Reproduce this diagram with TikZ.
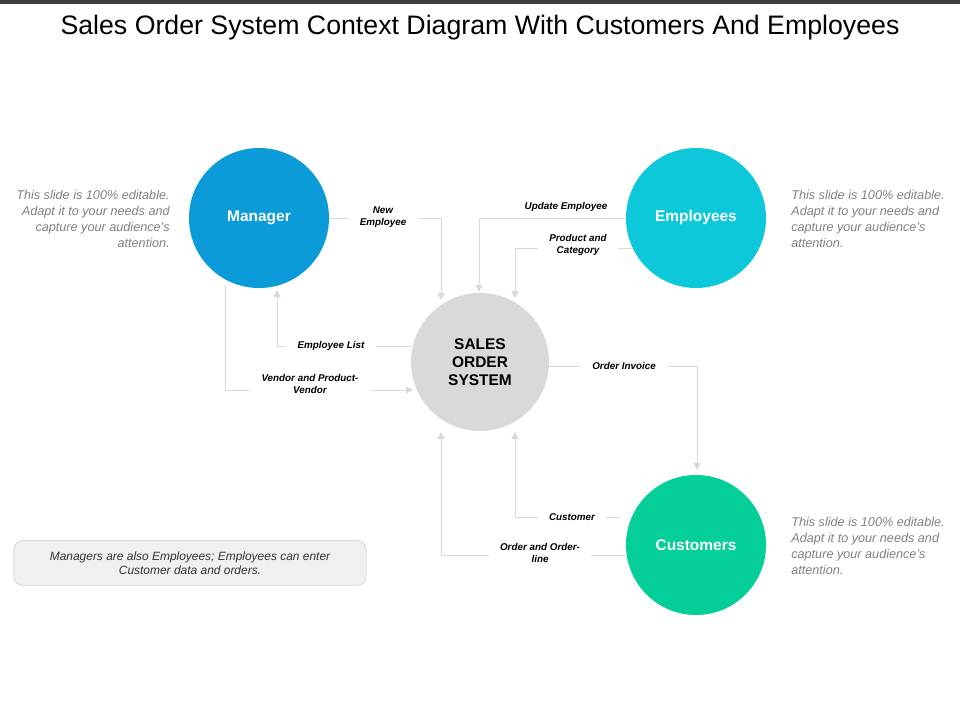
\documentclass[tikz,border=0pt]{standalone}
\usepackage{fontspec}
\setmainfont{Liberation Sans}
\usetikzlibrary{arrows.meta}
\definecolor{mgrblue}{HTML}{0A9BD8}
\definecolor{empcyan}{HTML}{0CC8D8}
\definecolor{custgreen}{HTML}{05CF98}
\definecolor{flowgray}{HTML}{D9D9D9}
\tikzset{
  actor/.style={circle, minimum size=3.5cm, text=white, font=\fontsize{11}{13}\selectfont\bfseries},
  flow/.style={draw=flowgray, line width=0.6pt, -{Triangle[length=5pt,width=5pt]}},
  flowlabel/.style={fill=white, inner xsep=8pt, inner ysep=2pt, align=center, font=\fontsize{7}{8.5}\selectfont\bfseries\itshape},
  sidenote/.style={text=gray, font=\fontsize{9}{11.5}\selectfont\itshape}
}
\begin{document}
\begin{tikzpicture}[x=0.025cm, y=-0.025cm]
    \useasboundingbox (0,0) rectangle (960,720);
    \fill[black!75] (0,0) rectangle (960,4);
    \node (title) at (480,28) {\fontsize{19}{22}\selectfont Sales Order System Context Diagram With Customers And Employees};

    \node (mgr) at (259,218) [actor, fill=mgrblue] {Manager};
    \node (emp) at (696,218) [actor, fill=empcyan] {Employees};
    \node (cust) at (696,545) [actor, fill=custgreen] {Customers};
    \node (sys) at (480,362) [circle, minimum size=3.45cm, fill=black!15, align=center, font=\fontsize{11}{13}\selectfont\bfseries] {SALES\\ORDER\\SYSTEM};

    \coordinate (c1) at (329,218);
    \coordinate (c2) at (626,218);
    \coordinate (c3) at (633,248);
    \coordinate (c4) at (411,346);
    \coordinate (c5) at (225,285);
    \coordinate (c6) at (549,366);
    \coordinate (c7) at (620,517);
    \coordinate (c8) at (627,555);

    \draw[flow] (c1) -| (441,300);
    \draw[flow] (c2) -| (479,292);
    \draw[flow] (c3) -| (515,298);
    \draw[flow] (c4) -| (277,290);
    \draw[flow] (c5) |- (413,390);
    \draw[flow] (c6) -| (697,470);
    \draw[flow] (c7) -| (515,432);
    \draw[flow] (c8) -| (441,432);

    \node (l1) at (383,217) [flowlabel] {New\\Employee};
    \node (l2) at (566,207) [flowlabel] {Update Employee};
    \node (l3) at (578,245) [flowlabel] {Product and\\Category};
    \node (l4) at (331,346) [flowlabel] {Employee List};
    \node (l5) at (310,384) [flowlabel] {Vendor and Product-\\Vendor};
    \node (l6) at (624,366) [flowlabel] {Order Invoice};
    \node (l7) at (572,517) [flowlabel] {Customer};
    \node (l8) at (540,553) [flowlabel] {Order and Order-\\line};

    \node (n1) at (93,219) [sidenote, align=right] {This slide is 100\% editable.\\Adapt it to your needs and\\capture your audience's\\attention.};
    \node (n2) at (868,219) [sidenote, align=left] {This slide is 100\% editable.\\Adapt it to your needs and\\capture your audience's\\attention.};
    \node (n3) at (868,546) [sidenote, align=left] {This slide is 100\% editable.\\Adapt it to your needs and\\capture your audience's\\attention.};

    \node (note) at (190,563) [draw=black!20, fill=black!6, rounded corners=6pt, minimum width=8.8cm, minimum height=1.12cm, align=center, font=\fontsize{8.5}{10}\selectfont\itshape, text=black!80] {Managers are also Employees; Employees can enter\\Customer data and orders.};
\end{tikzpicture}
\end{document}
